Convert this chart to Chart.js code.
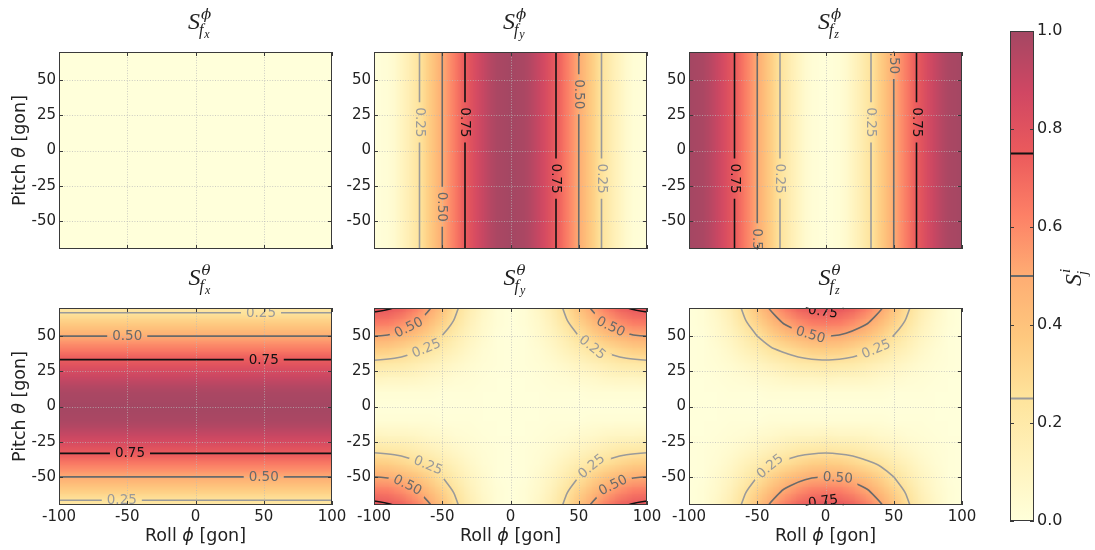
<!DOCTYPE html>
<html lang="en">
<head>
<meta charset="UTF-8">
<title>Sensitivity maps</title>
<script src="https://cdn.jsdelivr.net/npm/chart.js"></script>
<style>
    body { margin: 0; background: #ffffff; }
    #fig { position: relative; width: 1095px; height: 550px; overflow: hidden; background: #fff; }
    .panel { position: absolute; }
</style>
</head>
<body>
<div id="fig"></div>
<script>
// ---- grids (gon) ----
const phiFine = [-100,-95,-90,-85,-80,-75,-70,-65,-60,-55,-50,-45,-40,-35,-30,-25,-20,-15,-10,-5,0,5,10,15,20,25,30,35,40,45,50,55,60,65,70,75,80,85,90,95,100];
const thetaFine = [70,65,60,55,50,45,40,35,30,25,20,15,10,5,0,-5,-10,-15,-20,-25,-30,-35,-40,-45,-50,-55,-60,-65,-70];
const phiCoarse = [-100,-90,-80,-70,-60,-50,-40,-30,-20,-10,0,10,20,30,40,50,60,70,80,90,100];
const thetaCoarse = [70,60,50,40,30,20,10,0,-10,-20,-30,-40,-50,-60,-70];
const phiEdges = [-100, 100];
const thetaEdges = [70, -70];

const phiTicks = [-100, -50, 0, 50, 100];
const thetaTicks = [-50, -25, 0, 25, 50];
const cbarTicks = [0, 0.2, 0.4, 0.6, 0.8, 1.0];
const levels = [0.25, 0.5, 0.75];

// ---- sensitivity values read from the maps ----
// roll sensitivities, one value per phiFine column (no change along pitch)
const sPhiFx = [0,0,0,0,0,0,0,0,0,0,0,0,0,0,0,0,0,0,0,0,0,0,0,0,0,0,0,0,0,0,0,0,0,0,0,0,0,0,0,0,0];
const sPhiFy = [0.00,0.01,0.02,0.05,0.10,0.15,0.21,0.27,0.35,0.42,0.50,0.58,0.65,0.73,0.79,0.85,0.90,0.95,0.98,0.99,1.00,0.99,0.98,0.95,0.90,0.85,0.79,0.73,0.65,0.58,0.50,0.42,0.35,0.27,0.21,0.15,0.10,0.05,0.02,0.01,0.00];
const sPhiFz = [1.00,0.99,0.98,0.95,0.90,0.85,0.79,0.73,0.65,0.58,0.50,0.42,0.35,0.27,0.21,0.15,0.10,0.05,0.02,0.01,0.00,0.01,0.02,0.05,0.10,0.15,0.21,0.27,0.35,0.42,0.50,0.58,0.65,0.73,0.79,0.85,0.90,0.95,0.98,0.99,1.00];
// pitch sensitivity on fx, one value per thetaFine row (no change along roll)
const sThetaFx = [0.21,0.27,0.35,0.42,0.50,0.58,0.65,0.73,0.79,0.85,0.90,0.95,0.98,0.99,1.00,0.99,0.98,0.95,0.90,0.85,0.79,0.73,0.65,0.58,0.50,0.42,0.35,0.27,0.21];
// pitch sensitivities on fy / fz, rows = thetaCoarse, columns = phiCoarse
const sThetaFy = [
    [0.79,0.77,0.72,0.63,0.52,0.40,0.27,0.16,0.08,0.02,0.00,0.02,0.08,0.16,0.27,0.40,0.52,0.63,0.72,0.77,0.79],
    [0.65,0.64,0.59,0.52,0.43,0.33,0.23,0.13,0.06,0.02,0.00,0.02,0.06,0.13,0.23,0.33,0.43,0.52,0.59,0.64,0.65],
    [0.50,0.49,0.45,0.40,0.33,0.25,0.17,0.10,0.05,0.01,0.00,0.01,0.05,0.10,0.17,0.25,0.33,0.40,0.45,0.49,0.50],
    [0.35,0.34,0.31,0.27,0.23,0.17,0.12,0.07,0.03,0.01,0.00,0.01,0.03,0.07,0.12,0.17,0.23,0.27,0.31,0.34,0.35],
    [0.21,0.20,0.19,0.16,0.13,0.10,0.07,0.04,0.02,0.01,0.00,0.01,0.02,0.04,0.07,0.10,0.13,0.16,0.19,0.20,0.21],
    [0.10,0.09,0.09,0.08,0.06,0.05,0.03,0.02,0.01,0.00,0.00,0.00,0.01,0.02,0.03,0.05,0.06,0.08,0.09,0.09,0.10],
    [0.02,0.02,0.02,0.02,0.02,0.01,0.01,0.01,0.00,0.00,0.00,0.00,0.00,0.01,0.01,0.01,0.02,0.02,0.02,0.02,0.02],
    [0.00,0.00,0.00,0.00,0.00,0.00,0.00,0.00,0.00,0.00,0.00,0.00,0.00,0.00,0.00,0.00,0.00,0.00,0.00,0.00,0.00],
    [0.02,0.02,0.02,0.02,0.02,0.01,0.01,0.01,0.00,0.00,0.00,0.00,0.00,0.01,0.01,0.01,0.02,0.02,0.02,0.02,0.02],
    [0.10,0.09,0.09,0.08,0.06,0.05,0.03,0.02,0.01,0.00,0.00,0.00,0.01,0.02,0.03,0.05,0.06,0.08,0.09,0.09,0.10],
    [0.21,0.20,0.19,0.16,0.13,0.10,0.07,0.04,0.02,0.01,0.00,0.01,0.02,0.04,0.07,0.10,0.13,0.16,0.19,0.20,0.21],
    [0.35,0.34,0.31,0.27,0.23,0.17,0.12,0.07,0.03,0.01,0.00,0.01,0.03,0.07,0.12,0.17,0.23,0.27,0.31,0.34,0.35],
    [0.50,0.49,0.45,0.40,0.33,0.25,0.17,0.10,0.05,0.01,0.00,0.01,0.05,0.10,0.17,0.25,0.33,0.40,0.45,0.49,0.50],
    [0.65,0.64,0.59,0.52,0.43,0.33,0.23,0.13,0.06,0.02,0.00,0.02,0.06,0.13,0.23,0.33,0.43,0.52,0.59,0.64,0.65],
    [0.79,0.77,0.72,0.63,0.52,0.40,0.27,0.16,0.08,0.02,0.00,0.02,0.08,0.16,0.27,0.40,0.52,0.63,0.72,0.77,0.79]
];
const sThetaFz = [
    [0.00,0.02,0.08,0.16,0.27,0.40,0.52,0.63,0.72,0.77,0.79,0.77,0.72,0.63,0.52,0.40,0.27,0.16,0.08,0.02,0.00],
    [0.00,0.02,0.06,0.13,0.23,0.33,0.43,0.52,0.59,0.64,0.65,0.64,0.59,0.52,0.43,0.33,0.23,0.13,0.06,0.02,0.00],
    [0.00,0.01,0.05,0.10,0.17,0.25,0.33,0.40,0.45,0.49,0.50,0.49,0.45,0.40,0.33,0.25,0.17,0.10,0.05,0.01,0.00],
    [0.00,0.01,0.03,0.07,0.12,0.17,0.23,0.27,0.31,0.34,0.35,0.34,0.31,0.27,0.23,0.17,0.12,0.07,0.03,0.01,0.00],
    [0.00,0.01,0.02,0.04,0.07,0.10,0.13,0.16,0.19,0.20,0.21,0.20,0.19,0.16,0.13,0.10,0.07,0.04,0.02,0.01,0.00],
    [0.00,0.00,0.01,0.02,0.03,0.05,0.06,0.08,0.09,0.09,0.10,0.09,0.09,0.08,0.06,0.05,0.03,0.02,0.01,0.00,0.00],
    [0.00,0.00,0.00,0.01,0.01,0.01,0.02,0.02,0.02,0.02,0.02,0.02,0.02,0.02,0.02,0.01,0.01,0.01,0.00,0.00,0.00],
    [0.00,0.00,0.00,0.00,0.00,0.00,0.00,0.00,0.00,0.00,0.00,0.00,0.00,0.00,0.00,0.00,0.00,0.00,0.00,0.00,0.00],
    [0.00,0.00,0.00,0.01,0.01,0.01,0.02,0.02,0.02,0.02,0.02,0.02,0.02,0.02,0.02,0.01,0.01,0.01,0.00,0.00,0.00],
    [0.00,0.00,0.01,0.02,0.03,0.05,0.06,0.08,0.09,0.09,0.10,0.09,0.09,0.08,0.06,0.05,0.03,0.02,0.01,0.00,0.00],
    [0.00,0.01,0.02,0.04,0.07,0.10,0.13,0.16,0.19,0.20,0.21,0.20,0.19,0.16,0.13,0.10,0.07,0.04,0.02,0.01,0.00],
    [0.00,0.01,0.03,0.07,0.12,0.17,0.23,0.27,0.31,0.34,0.35,0.34,0.31,0.27,0.23,0.17,0.12,0.07,0.03,0.01,0.00],
    [0.00,0.01,0.05,0.10,0.17,0.25,0.33,0.40,0.45,0.49,0.50,0.49,0.45,0.40,0.33,0.25,0.17,0.10,0.05,0.01,0.00],
    [0.00,0.02,0.06,0.13,0.23,0.33,0.43,0.52,0.59,0.64,0.65,0.64,0.59,0.52,0.43,0.33,0.23,0.13,0.06,0.02,0.00],
    [0.00,0.02,0.08,0.16,0.27,0.40,0.52,0.63,0.72,0.77,0.79,0.77,0.72,0.63,0.52,0.40,0.27,0.16,0.08,0.02,0.00]
];

// ---- styling ----
const FONT = '"DejaVu Sans", "Liberation Sans", sans-serif';
const SERIF = '"Liberation Serif", "DejaVu Serif", serif';
const TXT = '#222222';
// YlOrRd, faded over white
const cmapStops = [
    [0.000, [255, 255, 218]],
    [0.125, [255, 242, 187]],
    [0.250, [254, 228, 156]],
    [0.375, [254, 200, 126]],
    [0.500, [254, 173, 115]],
    [0.625, [253, 128, 102]],
    [0.750, [235, 90, 92]],
    [0.875, [208, 71, 99]],
    [1.000, [164, 71, 99]]
];
const levelColors = { 0.25: '#9a9a9a', 0.5: '#6a6a6a', 0.75: '#111111' };

function cmap(v) {
    v = Math.max(0, Math.min(1, v));
    for (let k = 1; k < cmapStops.length; k++) {
        if (v <= cmapStops[k][0]) {
            const [v0, c0] = cmapStops[k - 1], [v1, c1] = cmapStops[k];
            const t = (v - v0) / (v1 - v0);
            return c0.map((c, i) => Math.round(c + t * (c1[i] - c)));
        }
    }
    return cmapStops[cmapStops.length - 1][1];
}

const fields = [
    { xs: phiFine, ys: thetaEdges, z: [sPhiFx, sPhiFx] },
    { xs: phiFine, ys: thetaEdges, z: [sPhiFy, sPhiFy] },
    { xs: phiFine, ys: thetaEdges, z: [sPhiFz, sPhiFz] },
    { xs: phiEdges, ys: thetaFine, z: sThetaFx.map(v => [v, v]) },
    { xs: phiCoarse, ys: thetaCoarse, z: sThetaFy },
    { xs: phiCoarse, ys: thetaCoarse, z: sThetaFz }
];

// panel layout (plot area in page pixels) and contour label spots
const colLeft = [59, 374, 689];
const rowTop = [52, 308];
const plotW = 273, plotH = 197;

const panels = [
    { col: 0, row: 0, field: 0, sup: 'ϕ', sub: 'x', labels: [] },
    { col: 1, row: 0, field: 1, sup: 'ϕ', sub: 'y', labels: [
        { lv: 0.25, x: -67, y: 20 }, { lv: 0.5, x: -50, y: -40 }, { lv: 0.75, x: -33, y: 20 },
        { lv: 0.75, x: 33, y: -20 }, { lv: 0.5, x: 50, y: 40 }, { lv: 0.25, x: 67, y: -20 } ] },
    { col: 2, row: 0, field: 2, sup: 'ϕ', sub: 'z', labels: [
        { lv: 0.75, x: -67, y: -20 }, { lv: 0.25, x: -33, y: -20 }, { lv: 0.5, x: -50, y: -66 },
        { lv: 0.25, x: 33, y: 20 }, { lv: 0.75, x: 67, y: 20 }, { lv: 0.5, x: 50, y: 65 } ] },
    { col: 0, row: 1, field: 3, sup: 'θ', sub: 'x', labels: [
        { lv: 0.25, x: 48, y: 67 }, { lv: 0.5, x: -50, y: 50 }, { lv: 0.75, x: 50, y: 33 },
        { lv: 0.75, x: -48, y: -33 }, { lv: 0.5, x: 50, y: -50 }, { lv: 0.25, x: -54, y: -67 } ] },
    { col: 1, row: 1, field: 4, sup: 'θ', sub: 'y', labels: [
        { lv: 0.5, x: -76, y: 59 }, { lv: 0.25, x: -62, y: 42 }, { lv: 0.5, x: 74, y: 58 }, { lv: 0.25, x: 60, y: 42 },
        { lv: 0.25, x: -60, y: -41 }, { lv: 0.5, x: -75, y: -55 }, { lv: 0.25, x: 58, y: -41 }, { lv: 0.5, x: 74, y: -54 } ] },
    { col: 2, row: 1, field: 5, sup: 'θ', sub: 'z', labels: [
        { lv: 0.75, x: -2, y: 67 }, { lv: 0.5, x: -11, y: 51 }, { lv: 0.25, x: 37, y: 41 },
        { lv: 0.25, x: -42, y: -41 }, { lv: 0.5, x: 9, y: -50 }, { lv: 0.75, x: -2, y: -66 } ] }
];

function makeImage(f) {
    const c = document.createElement('canvas');
    c.width = f.xs.length; c.height = f.ys.length;
    const g = c.getContext('2d');
    const img = g.createImageData(c.width, c.height);
    for (let i = 0; i < c.height; i++) {
        for (let j = 0; j < c.width; j++) {
            const rgb = cmap(f.z[i][j]);
            const k = (i * c.width + j) * 4;
            img.data[k] = rgb[0]; img.data[k + 1] = rgb[1]; img.data[k + 2] = rgb[2]; img.data[k + 3] = 255;
        }
    }
    g.putImageData(img, 0, 0);
    return c;
}

// marching squares, segments in data units
function contourSegments(f, lv) {
    const segs = [];
    for (let i = 0; i < f.ys.length - 1; i++) {
        for (let j = 0; j < f.xs.length - 1; j++) {
            const x0 = f.xs[j], x1 = f.xs[j + 1], y0 = f.ys[i], y1 = f.ys[i + 1];
            const a = f.z[i][j], b = f.z[i][j + 1], c = f.z[i + 1][j + 1], d = f.z[i + 1][j];
            const pts = [];
            const edge = (va, vb, xa, ya, xb, yb) => {
                if ((va >= lv) !== (vb >= lv)) {
                    const t = (lv - va) / (vb - va);
                    pts.push([xa + t * (xb - xa), ya + t * (yb - ya)]);
                }
            };
            edge(a, b, x0, y0, x1, y0);
            edge(b, c, x1, y0, x1, y1);
            edge(d, c, x0, y1, x1, y1);
            edge(a, d, x0, y0, x0, y1);
            if (pts.length === 2) segs.push(pts);
            else if (pts.length === 4) { segs.push([pts[0], pts[1]]); segs.push([pts[2], pts[3]]); }
        }
    }
    return segs;
}

// join segments sharing end points into polylines
function chain(segs) {
    const key = p => p[0].toFixed(5) + ',' + p[1].toFixed(5);
    const ends = new Map();
    segs.forEach((s, i) => {
        s.forEach(p => { const k = key(p); if (!ends.has(k)) ends.set(k, []); ends.get(k).push(i); });
    });
    const used = new Array(segs.length).fill(false);
    const lines = [];
    const grow = (line, atEnd) => {
        for (;;) {
            const tip = atEnd ? line[line.length - 1] : line[0];
            const next = (ends.get(key(tip)) || []).find(i => !used[i]);
            if (next === undefined) return;
            used[next] = true;
            const s = segs[next];
            const other = key(s[0]) === key(tip) ? s[1] : s[0];
            if (atEnd) line.push(other); else line.unshift(other);
        }
    };
    segs.forEach((s, i) => {
        if (used[i]) return;
        used[i] = true;
        const line = [s[0], s[1]];
        grow(line, true);
        grow(line, false);
        lines.push(line);
    });
    return lines;
}

function strokeSmooth(ctx, pts) {
    ctx.moveTo(pts[0][0], pts[0][1]);
    if (pts.length < 3) { ctx.lineTo(pts[pts.length - 1][0], pts[pts.length - 1][1]); return; }
    for (let k = 1; k < pts.length - 1; k++) {
        const mx = (pts[k][0] + pts[k + 1][0]) / 2, my = (pts[k][1] + pts[k + 1][1]) / 2;
        if (k === pts.length - 2) ctx.quadraticCurveTo(pts[k][0], pts[k][1], pts[k + 1][0], pts[k + 1][1]);
        else ctx.quadraticCurveTo(pts[k][0], pts[k][1], mx, my);
    }
}

function drawRuns(ctx, runs, cx, cy) {
    let total = 0;
    runs.forEach(r => { ctx.font = r.f; r.w = ctx.measureText(r.t).width; total += r.w; });
    let x0 = cx - total / 2;
    ctx.textAlign = 'left';
    ctx.textBaseline = 'middle';
    runs.forEach(r => { ctx.font = r.f; ctx.fillText(r.t, x0, cy); x0 += r.w; });
}

// S^{sup}_{f_sub}
function drawTitle(ctx, cx, by, sup, sub) {
    const fS = 'italic 24px ' + SERIF, fSup = 'italic 15px "DejaVu Serif", serif';
    const fF = 'italic 16px ' + SERIF, fX = 'italic 12px ' + SERIF;
    ctx.font = fS; const wS = ctx.measureText('S').width;
    ctx.font = fSup; const wSup = ctx.measureText(sup).width;
    ctx.font = fF; const wF = ctx.measureText('f').width;
    ctx.font = fX; const wX = ctx.measureText(sub).width;
    const total = wS + Math.max(wSup + 1, wF + wX);
    const x0 = cx - total / 2;
    ctx.fillStyle = TXT; ctx.textAlign = 'left'; ctx.textBaseline = 'alphabetic';
    ctx.font = fS; ctx.fillText('S', x0, by);
    ctx.font = fSup; ctx.fillText(sup, x0 + wS + 1, by - 10);
    ctx.font = fF; ctx.fillText('f', x0 + wS - 1, by + 6);
    ctx.font = fX; ctx.fillText(sub, x0 + wS - 1 + wF + 1, by + 9);
}

function panelPlugin(p) {
    const f = fields[p.field];
    const img = makeImage(f);
    const lines = {};
    levels.forEach(lv => { lines[lv] = chain(contourSegments(f, lv)); });
    return {
        id: 'sensMap',
        beforeDraw(chart) {
            const { ctx, chartArea: ca, scales: { x, y } } = chart;
            ctx.save();
            ctx.beginPath(); ctx.rect(ca.left, ca.top, ca.width, ca.height); ctx.clip();
            const dx = f.xs[1] - f.xs[0], dy = f.ys[0] - f.ys[1];
            const px0 = x.getPixelForValue(f.xs[0] - dx / 2);
            const px1 = x.getPixelForValue(f.xs[f.xs.length - 1] + dx / 2);
            const py0 = y.getPixelForValue(f.ys[0] + dy / 2);
            const py1 = y.getPixelForValue(f.ys[f.ys.length - 1] - dy / 2);
            ctx.imageSmoothingEnabled = true;
            ctx.imageSmoothingQuality = 'low';
            ctx.drawImage(img, px0, py0, px1 - px0, py1 - py0);
            // dotted grid
            ctx.strokeStyle = 'rgba(185,185,185,0.9)';
            ctx.lineWidth = 0.8;
            ctx.setLineDash([1, 1.6]);
            ctx.beginPath();
            phiTicks.forEach(v => {
                if (v <= -100 || v >= 100) return;
                const px = Math.round(x.getPixelForValue(v)) + 0.5;
                ctx.moveTo(px, ca.top); ctx.lineTo(px, ca.bottom);
            });
            thetaTicks.forEach(v => {
                const py = Math.round(y.getPixelForValue(v)) + 0.5;
                ctx.moveTo(ca.left, py); ctx.lineTo(ca.right, py);
            });
            ctx.stroke();
            ctx.restore();
        },
        afterDraw(chart) {
            const { ctx, chartArea: ca, scales: { x, y } } = chart;
            const linesPx = {};
            levels.forEach(lv => {
                linesPx[lv] = lines[lv].map(l => l.map(([a, b]) => [x.getPixelForValue(a), y.getPixelForValue(b)]));
            });
            // place labels on the nearest contour point
            const labelFont = '13.5px ' + FONT;
            ctx.font = labelFont;
            const placed = p.labels.map(L => {
                const tx = x.getPixelForValue(L.x), ty = y.getPixelForValue(L.y);
                let best = null, bd = Infinity;
                linesPx[L.lv].forEach(line => {
                    for (let k = 0; k < line.length - 1; k++) {
                        const [ax, ay] = line[k], [bx, by] = line[k + 1];
                        const vx = bx - ax, vy = by - ay, len2 = vx * vx + vy * vy;
                        if (len2 < 1e-6) continue;
                        let t = ((tx - ax) * vx + (ty - ay) * vy) / len2;
                        t = Math.max(0, Math.min(1, t));
                        const qx = ax + t * vx, qy = ay + t * vy;
                        const d = (qx - tx) ** 2 + (qy - ty) ** 2;
                        if (d < bd) { bd = d; best = { cx: qx, cy: qy, ang: Math.atan2(vy, vx) }; }
                    }
                });
                if (!best) return null;
                while (best.ang > Math.PI / 2 + 1e-6) best.ang -= Math.PI;
                while (best.ang <= -Math.PI / 2 + 1e-6) best.ang += Math.PI;
                best.text = L.lv.toFixed(2);
                best.w = ctx.measureText(best.text).width;
                best.lv = L.lv;
                return best;
            }).filter(Boolean);

            // contour lines with gaps around labels
            ctx.save();
            ctx.beginPath();
            ctx.rect(ca.left, ca.top, ca.width, ca.height);
            placed.forEach(L => {
                const c = Math.cos(L.ang), s = Math.sin(L.ang);
                const hw = L.w / 2 + 5, hh = 7;
                const pts = [[-hw, -hh], [hw, -hh], [hw, hh], [-hw, hh]].map(([u, v]) => [L.cx + u * c - v * s, L.cy + u * s + v * c]);
                ctx.moveTo(pts[0][0], pts[0][1]);
                pts.slice(1).forEach(q => ctx.lineTo(q[0], q[1]));
                ctx.closePath();
            });
            ctx.clip('evenodd');
            ctx.lineWidth = 1.6;
            ctx.lineCap = 'round';
            ctx.lineJoin = 'round';
            levels.forEach(lv => {
                ctx.strokeStyle = levelColors[lv];
                ctx.beginPath();
                linesPx[lv].forEach(line => strokeSmooth(ctx, line));
                ctx.stroke();
            });
            ctx.restore();

            // label texts
            ctx.save();
            ctx.beginPath(); ctx.rect(ca.left, ca.top, ca.width, ca.height); ctx.clip();
            ctx.font = labelFont;
            ctx.textAlign = 'center'; ctx.textBaseline = 'middle';
            placed.forEach(L => {
                ctx.save();
                ctx.translate(L.cx, L.cy);
                ctx.rotate(L.ang);
                ctx.fillStyle = levelColors[L.lv];
                ctx.fillText(L.text, 0, 0.5);
                ctx.restore();
            });
            ctx.restore();

            // frame and inward ticks
            ctx.save();
            ctx.strokeStyle = '#3a3a3a';
            ctx.lineWidth = 1;
            ctx.strokeRect(ca.left + 0.5, ca.top + 0.5, ca.width - 1, ca.height - 1);
            ctx.beginPath();
            phiTicks.forEach(v => {
                const px = Math.round(x.getPixelForValue(v)) + 0.5;
                ctx.moveTo(px, ca.bottom); ctx.lineTo(px, ca.bottom - 4);
                ctx.moveTo(px, ca.top); ctx.lineTo(px, ca.top + 4);
            });
            thetaTicks.forEach(v => {
                const py = Math.round(y.getPixelForValue(v)) + 0.5;
                ctx.moveTo(ca.left, py); ctx.lineTo(ca.left + 4, py);
                ctx.moveTo(ca.right, py); ctx.lineTo(ca.right - 4, py);
            });
            ctx.stroke();
            ctx.restore();

            // titles
            ctx.save();
            drawTitle(ctx, (ca.left + ca.right) / 2 + 4, ca.top - 23, p.sup, p.sub);
            ctx.fillStyle = TXT;
            if (p.col === 0) {
                ctx.save();
                ctx.translate(ca.left - 39, (ca.top + ca.bottom) / 2);
                ctx.rotate(-Math.PI / 2);
                drawRuns(ctx, [
                    { t: 'Pitch ', f: '17.5px ' + FONT },
                    { t: 'θ', f: 'italic 17.5px ' + FONT },
                    { t: ' [gon]', f: '17.5px ' + FONT }
                ], 0, 0);
                ctx.restore();
            }
            if (p.row === 1) {
                drawRuns(ctx, [
                    { t: 'Roll ', f: '17.5px ' + FONT },
                    { t: 'ϕ', f: 'italic 17.5px ' + FONT },
                    { t: ' [gon]', f: '17.5px ' + FONT }
                ], (ca.left + ca.right) / 2, ca.bottom + 31);
            }
            ctx.restore();
        }
    };
}

const fig = document.getElementById('fig');

function makeCanvas(left, top, w, h) {
    const box = document.createElement('div');
    box.className = 'panel';
    box.style.left = left + 'px'; box.style.top = top + 'px';
    box.style.width = w + 'px'; box.style.height = h + 'px';
    const cv = document.createElement('canvas');
    cv.width = w; cv.height = h;
    box.appendChild(cv);
    fig.appendChild(box);
    return cv;
}

panels.forEach(p => {
    const L = colLeft[p.col], T = rowTop[p.row];
    const cv = makeCanvas(L - 59, T - 52, 59 + plotW + 20, 52 + plotH + 48);
    new Chart(cv, {
        type: 'scatter',
        data: { datasets: [] },
        options: {
            responsive: false,
            animation: false,
            events: [],
            layout: { padding: { left: 0, top: 52, right: 20, bottom: 0 } },
            plugins: { legend: { display: false }, tooltip: { enabled: false } },
            scales: {
                x: {
                    type: 'linear', min: -100, max: 100,
                    grid: { display: false, drawTicks: false },
                    border: { display: false },
                    afterBuildTicks: s => { s.ticks = phiTicks.map(v => ({ value: v })); },
                    afterFit: s => { s.height = 48; },
                    ticks: { display: p.row === 1, color: TXT, font: { family: FONT, size: 15 }, padding: 3, maxRotation: 0, autoSkip: false }
                },
                y: {
                    type: 'linear', min: -70, max: 70,
                    grid: { display: false, drawTicks: false },
                    border: { display: false },
                    afterBuildTicks: s => { s.ticks = thetaTicks.map(v => ({ value: v })); },
                    afterFit: s => { s.width = 59; },
                    ticks: { color: TXT, font: { family: FONT, size: 15 }, padding: 3, autoSkip: false }
                }
            }
        },
        plugins: [panelPlugin(p)]
    });
});

// colour bar
const cbCanvas = makeCanvas(990, 0, 105, 550);
new Chart(cbCanvas, {
    type: 'scatter',
    data: { datasets: [] },
    options: {
        responsive: false,
        animation: false,
        events: [],
        layout: { padding: { left: 20, top: 31, right: 0, bottom: 29 } },
        plugins: { legend: { display: false }, tooltip: { enabled: false } },
        scales: {
            x: { type: 'linear', display: false, min: 0, max: 1 },
            y: {
                type: 'linear', position: 'right', min: 0, max: 1,
                grid: { display: false, drawTicks: false },
                border: { display: false },
                afterBuildTicks: s => { s.ticks = cbarTicks.map(v => ({ value: v })); },
                afterFit: s => { s.width = 61; },
                ticks: { color: TXT, font: { family: FONT, size: 16 }, padding: 3, callback: v => v.toFixed(1) }
            }
        }
    },
    plugins: [{
        id: 'cbar',
        beforeDraw(chart) {
            const { ctx, chartArea: ca, scales: { y } } = chart;
            const g = ctx.createLinearGradient(0, y.getPixelForValue(0), 0, y.getPixelForValue(1));
            cmapStops.forEach(([v, c]) => g.addColorStop(v, 'rgb(' + c.join(',') + ')'));
            ctx.fillStyle = g;
            ctx.fillRect(ca.left, ca.top, ca.width, ca.height);
        },
        afterDraw(chart) {
            const { ctx, chartArea: ca, scales: { y } } = chart;
            ctx.save();
            ctx.lineWidth = 2;
            levels.forEach(lv => {
                const py = y.getPixelForValue(lv);
                ctx.strokeStyle = levelColors[lv];
                ctx.beginPath(); ctx.moveTo(ca.left, py); ctx.lineTo(ca.right, py); ctx.stroke();
            });
            ctx.lineWidth = 1;
            ctx.strokeStyle = '#3a3a3a';
            ctx.strokeRect(ca.left + 0.5, ca.top + 0.5, ca.width - 1, ca.height - 1);
            ctx.beginPath();
            cbarTicks.forEach(v => {
                const py = Math.round(y.getPixelForValue(v)) + 0.5;
                ctx.moveTo(ca.left, py); ctx.lineTo(ca.left + 4, py);
                ctx.moveTo(ca.right, py); ctx.lineTo(ca.right - 4, py);
            });
            ctx.stroke();
            // S^i_j, reading upwards
            ctx.translate(ca.right + 39, 277);
            ctx.rotate(-Math.PI / 2);
            ctx.fillStyle = TXT;
            ctx.textAlign = 'left'; ctx.textBaseline = 'alphabetic';
            ctx.font = 'italic 24px ' + SERIF;
            const wS = ctx.measureText('S').width;
            const x0 = -wS / 2 - 3;
            ctx.fillText('S', x0, 8);
            ctx.font = 'italic 15px ' + SERIF;
            ctx.fillText('i', x0 + wS + 1, -3);
            ctx.fillText('j', x0 + wS - 1, 14);
            ctx.restore();
        }
    }]
});
</script>
</body>
</html>
